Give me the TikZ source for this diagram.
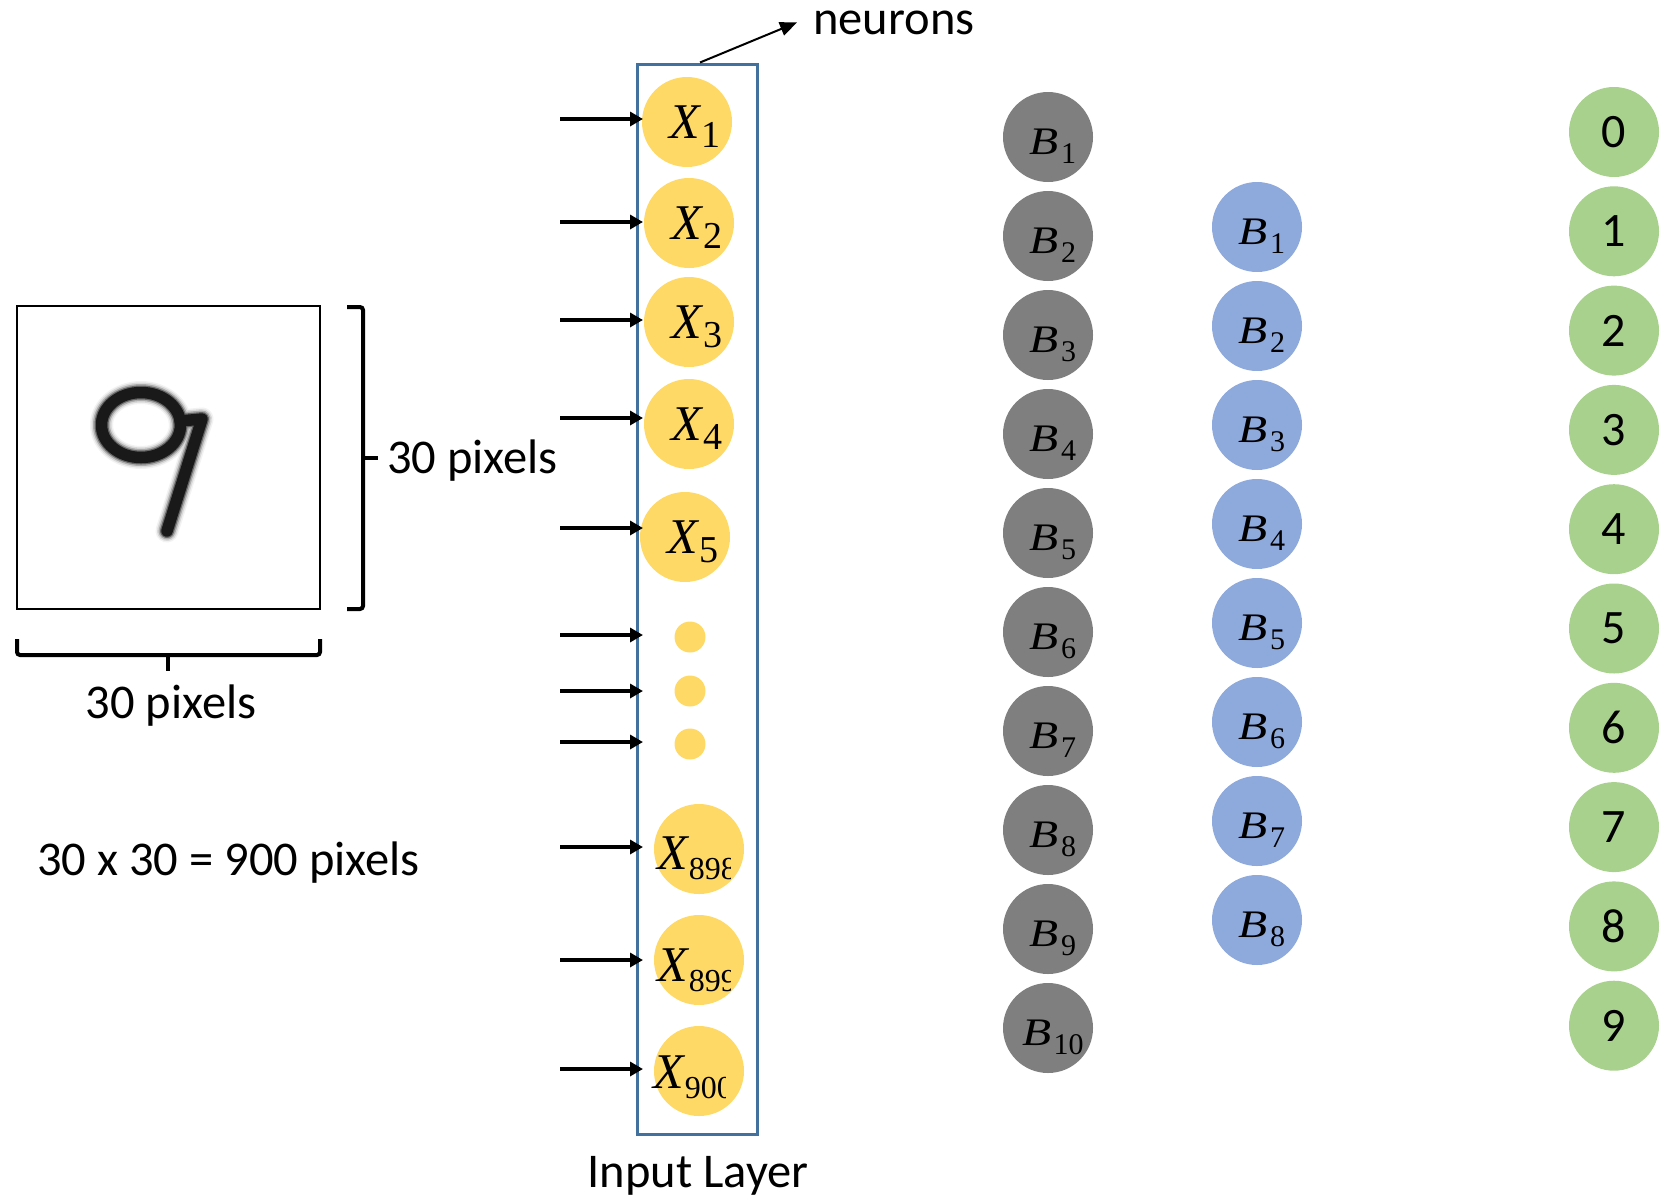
\documentclass[tikz,border=0pt]{standalone}
\usepackage{graphicx}
\usepackage{fontspec}
\setmainfont{Carlito}
\newfontfamily\mf{Liberation Serif}
\usetikzlibrary{arrows.meta}
\definecolor{xyellow}{HTML}{FFD966}
\definecolor{bgray}{HTML}{7F7F7F}
\definecolor{bblue}{HTML}{8EA9DB}
\definecolor{ogreen}{HTML}{A9D18E}
\definecolor{boxblue}{HTML}{41719C}
\newcommand\XL[1]{{\fontsize{50}{54}\selectfont\mf\itshape X}\kern1pt\raisebox{-9pt}{\fontsize{38}{42}\selectfont\mf #1}}
\newcommand\XLs[1]{{\fontsize{50}{54}\selectfont\mf\itshape X}\kern1pt\raisebox{-10pt}{\fontsize{32}{35}\selectfont\mf #1}}
\newcommand\BL[1]{\scalebox{1.22}[1]{\fontsize{39}{42}\selectfont\mf\itshape B}\kern2pt\raisebox{-9pt}{\fontsize{30}{33}\selectfont\mf #1}}
\begin{document}
\begin{tikzpicture}[x=1pt,y=-1pt,
  txt/.style={font=\fontsize{48.5}{52}\selectfont, inner sep=0pt},
  xnode/.style={circle, fill=xyellow, minimum size=90pt, inner sep=0pt},
  dotnode/.style={circle, fill=xyellow, minimum size=31pt, inner sep=0pt},
  bnode/.style={circle, fill=bgray, minimum size=90pt, inner sep=0pt},
  hnode/.style={circle, fill=bblue, minimum size=90pt, inner sep=0pt},
  onode/.style={circle, fill=ogreen, minimum size=90pt, inner sep=0pt, font=\fontsize{48}{52}\selectfont},
  xlab/.style={inner sep=0pt},
  blab/.style={inner sep=0pt},
  inarrow/.style={line width=3.5pt, -{Triangle[length=13pt,width=14pt]}},
  brace/.style={line width=4pt, rounded corners=3pt},
  nine/.style={line cap=round, line join=round}
]
\useasboundingbox (0,0) rectangle (1661,1197);

% image of the digit
\node[draw, line width=2pt, minimum width=303pt, minimum height=303pt, inner sep=0pt] (img) at (168.5,457.5) {};
\foreach \w/\c in {23/5, 20/15, 17/33, 14/60, 11.5/90} {
  \draw[nine, line width=\w pt, black!\c] (141,425) ellipse [x radius=39.5, y radius=32.5];
  \draw[nine, line width=\w pt, black!\c] (180,421) -- (202,419) -- (167,531);
}

% braces
\draw[brace] (347,307) -- (363,307) -- (363,609) -- (347,609);
\draw[brace] (363,458) -- (378,458);
\draw[brace] (17,639) -- (17,655) -- (320,655) -- (320,639);
\draw[brace] (168,655) -- (168,671);

\node[txt, anchor=base west] (lblh) at (387,473) {30 pixels};
\node[txt, anchor=base] (lblw) at (171,718) {30 pixels};
\node[txt, anchor=base west] (lbltot) at (37,875) {30 x 30 = 900 pixels};

% input layer
\node[draw=boxblue, line width=3pt, minimum width=120pt, minimum height=1070pt, inner sep=0pt] (inbox) at (697,599) {};
\node[txt, anchor=base] (inlbl) at (698,1187) {Input Layer};
\node[txt, anchor=base west] (neur) at (813,34) {neurons};
\draw[line width=2pt, -{Triangle[length=17pt,width=14pt]}] ([xshift=3pt]inbox.north) -- ([xshift=-16pt]neur.west);

\node[xnode] (x1) at (687,122) {};
\node[xnode] (x2) at (689,223) {};
\node[xnode] (x3) at (689,322) {};
\node[xnode] (x4) at (689,424) {};
\node[xnode] (x5) at (685,537) {};
\node[dotnode] (d1) at (690,637) {};
\node[dotnode] (d2) at (690,691) {};
\node[dotnode] (d3) at (690,744) {};
\node[xnode] (x898) at (699,849) {};
\node[xnode] (x899) at (699,960) {};
\node[xnode] (x900) at (699,1071) {};

\foreach \n in {1,...,5} {
  \node[xlab] (xl\n) at ([xshift=8pt,yshift=-5pt]x\n) {\XL{\n}};
}
\begin{scope}
  \clip (640,780) rectangle (730,1010);
  \node[xlab, anchor=base west] (xl898) at (657,869) {\XLs{898}};
  \node[xlab, anchor=base west] (xl899) at (657,981) {\XLs{899}};
\end{scope}
\begin{scope}
  \clip (640,1010) rectangle (725,1130);
  \node[xlab, anchor=base west] (xl900) at (653,1088) {\XLs{900}};
\end{scope}

% input arrows
\foreach \i/\y in {1/119, 2/222, 3/320, 4/418, 5/528, 6/635, 7/691, 8/742, 9/847, 10/960, 11/1069} {
  \coordinate (a\i) at (560,\y);
  \draw[inarrow] (a\i) -- ([xshift=7.5pt]a\i -| inbox.west);
}

% first hidden layer (gray)
\foreach \i in {1,...,10} {
  \node[bnode] (g\i) at (1048,{137+99*(\i-1)}) {};
  \node[blab] (gl\i) at ([xshift=5pt,yshift=-9pt]g\i) {\BL{\i}};
}
% second hidden layer (blue)
\foreach \i in {1,...,8} {
  \node[hnode] (h\i) at (1257,{227+99*(\i-1)}) {};
  \node[blab] (hl\i) at ([xshift=5pt,yshift=-9pt]h\i) {\BL{\i}};
}
% output layer (green)
\foreach \i in {0,...,9} {
  \node[onode] (o\i) at (1614,{132+99.3*\i}) {\i};
}
\end{tikzpicture}
\end{document}
